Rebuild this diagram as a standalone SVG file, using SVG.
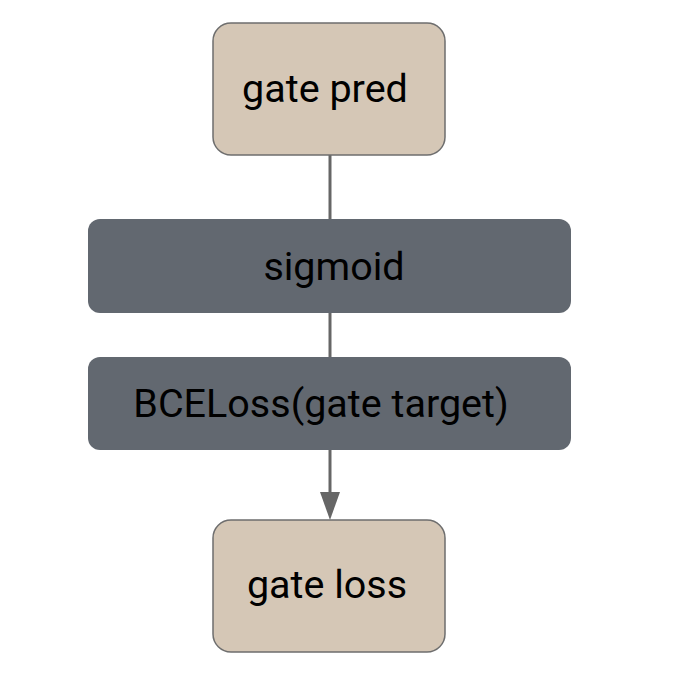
<svg xmlns="http://www.w3.org/2000/svg" width="692" height="690" viewBox="0 0 692 690">
<defs>
<style>
.data rect{fill:#d5c7b6;stroke:#6e6e6e;stroke-width:1.5}
.op rect{fill:#626870}
text{font-family:Roboto,"Liberation Sans",sans-serif;font-size:39.5px;fill:#000;text-anchor:middle}
.edge{stroke:#666;stroke-width:3;fill:none}
</style>
</defs>
<rect width="692" height="690" fill="#fff"/>
<g id="connectors">
<line class="edge" x1="330" y1="155" x2="330" y2="219"/>
<line class="edge" x1="330" y1="313" x2="330" y2="357"/>
<path d="M330,450V494" class="edge"/>
<path d="M320,492L340,492L330,520z" fill="#666"/>
</g>
<g id="gate_pred" class="data">
<rect x="213" y="23" width="232" height="132" rx="18"/>
<text x="325" y="102">gate pred</text>
</g>
<g id="sigmoid" class="op">
<rect x="88" y="219" width="483" height="94" rx="12"/>
<text x="334" y="280">sigmoid</text>
</g>
<g id="bceloss" class="op">
<rect x="88" y="357" width="483" height="93" rx="12"/>
<text x="321" y="417">BCELoss(gate target)</text>
</g>
<g id="gate_loss" class="data">
<rect x="213" y="520" width="232" height="132" rx="18"/>
<text x="327" y="598">gate loss</text>
</g>
</svg>
